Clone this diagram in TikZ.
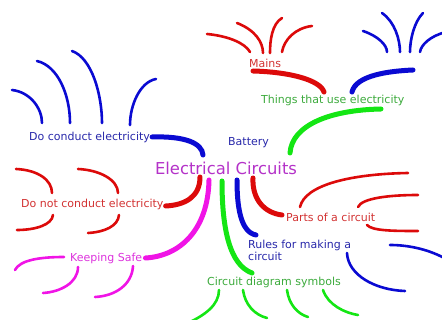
\documentclass[tikz,border=0pt]{standalone}
\usepackage{fontspec}
\setmainfont{DejaVu Sans}
\usetikzlibrary{calc}

\definecolor{linered}{RGB}{220,10,10}
\definecolor{lineblue}{RGB}{10,10,210}
\definecolor{linegreen}{RGB}{20,230,20}
\definecolor{linemag}{RGB}{240,20,230}
\definecolor{txtblue}{RGB}{40,40,170}
\definecolor{txtred}{RGB}{210,50,50}
\definecolor{txtgreen}{RGB}{60,170,60}
\definecolor{txtmag}{RGB}{220,50,220}
\definecolor{txtpurple}{RGB}{180,50,200}

\tikzset{
  branch/.style={line width=5pt, line cap=round},
  twig/.style={line width=2.6pt, line cap=round},
  topic/.style={font=\fontsize{11}{13}\selectfont, inner sep=0pt, anchor=west}
}

\begin{document}
\begin{tikzpicture}[x=1pt, y=-1pt]
  \useasboundingbox (0,0) rectangle (442,320);
  \clip (0,0) rectangle (442,320);

  % Define the labels
  \node[font=\fontsize{16.4}{18}\selectfont, text=txtpurple, inner sep=0pt] (center) at (226,168) {Electrical Circuits};
  \node[topic, text=txtblue] (battery) at (228,143) {Battery};
  \node[topic, text=txtblue] (conduct) at (29,137) {Do conduct electricity};
  \node[topic, text=txtred] (notconduct) at (21,204) {Do not conduct electricity};
  \node[topic, text=txtmag] (safe) at (70,258) {Keeping Safe};
  \node[topic, text=txtred] (mains) at (249,63) {Mains};
  \node[topic, text=txtgreen] (things) at (261,100) {Things that use electricity};
  \node[topic, text=txtred] (parts) at (286,217) {Parts of a circuit};
  \node[topic, text=txtblue, align=left, anchor=north west] (rules) at (248,240) {Rules for making a\\[-1pt]circuit};
  \node[topic, text=txtgreen] (symbols) at (207,282) {Circuit diagram symbols};

  % Define the ends of the branches near the title
  \coordinate (c1) at (203,155);
  \coordinate (c2) at (200,177);
  \coordinate (c3) at (209,180);
  \coordinate (c4) at (222,181);
  \coordinate (c5) at (237,180);
  \coordinate (c6) at (253,178);
  \coordinate (c7) at (290,153);

  % Draw the main branches
  \draw[branch, lineblue] ($(conduct.east)+(2,0)$) .. controls (185,136) and (202,143) .. (c1);
  \draw[branch, linered] (c2) .. controls (200,197) and (185,205) .. ($(notconduct.east)+(2,2)$);
  \draw[branch, linemag] (c3) .. controls (208,230) and (180,256) .. ($(safe.east)+(3,0)$);
  \draw[branch, linegreen] (c4) .. controls (222,230) and (230,265) .. (252,273);
  \draw[branch, lineblue] (c5) .. controls (237,205) and (240,232) .. (256,235);
  \draw[branch, linered] (c6) .. controls (252,200) and (265,213) .. ($(parts.west)+(-4,-2)$);
  \draw[branch, linegreen] (c7) .. controls (292,125) and (330,110) .. (381,109);
  \draw[branch, linered] (253,71) .. controls (290,72) and (320,80) .. (324,92);
  \draw[branch, lineblue] (352,92) .. controls (356,75) and (390,71) .. (413,70);

  % Draw the twigs above Do conduct electricity
  \draw[twig, lineblue] (12,90) .. controls (30,92) and (42,108) .. (42,123);
  \draw[twig, lineblue] (37,61) .. controls (58,66) and (70,95) .. (70,123);
  \draw[twig, lineblue] (72,51) .. controls (92,58) and (102,95) .. (102,123);
  \draw[twig, lineblue] (156,79) .. controls (140,82) and (130,105) .. (130,125);

  % Draw the twigs above Mains
  \draw[twig, linered] (207,34) .. controls (228,36) and (245,43) .. (250,52);
  \draw[twig, linered] (237,23) .. controls (255,30) and (263,42) .. (263,53);
  \draw[twig, linered] (282,18) .. controls (272,24) and (270,40) .. (270,53);
  \draw[twig, linered] (312,26) .. controls (295,28) and (284,40) .. (282,52);

  % Draw the twigs top right
  \draw[twig, lineblue] (363,31) .. controls (378,36) and (387,45) .. (387,52);
  \draw[twig, lineblue] (382,13) .. controls (395,22) and (400,40) .. (400,52);
  \draw[twig, lineblue] (423,13) .. controls (414,22) and (410,40) .. (410,52);
  \draw[twig, lineblue] (446,32) .. controls (430,36) and (421,45) .. (420,52);

  % Draw the twigs beside Parts of a circuit
  \draw[twig, linered] (300,207) .. controls (305,185) and (350,174) .. (408,173);
  \draw[twig, linered] (358,207) .. controls (362,198) and (390,195) .. (418,195);
  \draw[twig, linered] (367,225) .. controls (372,231) and (395,231) .. (418,231);

  % Draw the twigs beside Rules for making a circuit
  \draw[twig, lineblue] (390,245) .. controls (410,245) and (430,250) .. (446,259);
  \draw[twig, lineblue] (347,253) .. controls (348,275) and (375,290) .. (405,291);

  % Draw the twigs below Circuit diagram symbols
  \draw[twig, linegreen] (219,290) .. controls (219,305) and (205,315) .. (188,323);
  \draw[twig, linegreen] (243,290) .. controls (245,305) and (255,315) .. (267,318);
  \draw[twig, linegreen] (287,290) .. controls (289,305) and (298,314) .. (308,317);
  \draw[twig, linegreen] (323,290) .. controls (328,305) and (345,313) .. (358,315);

  % Draw the twigs round Do not conduct electricity
  \draw[twig, linered] (16,169) .. controls (38,170) and (52,180) .. (52,193);
  \draw[twig, linered] (78,169) .. controls (100,170) and (118,180) .. (118,193);
  \draw[twig, linered] (53,215) .. controls (52,225) and (35,230) .. (17,230);
  \draw[twig, linered] (119,215) .. controls (118,226) and (105,232) .. (88,233);

  % Draw the twigs below Keeping Safe
  \draw[twig, linemag] ($(safe.west)+(-6,-1)$) .. controls (40,257) and (20,260) .. (15,270);
  \draw[twig, linemag] (78,267) .. controls (78,283) and (60,292) .. (43,293);
  \draw[twig, linemag] (133,266) .. controls (132,285) and (115,296) .. (95,297);
\end{tikzpicture}
\end{document}
